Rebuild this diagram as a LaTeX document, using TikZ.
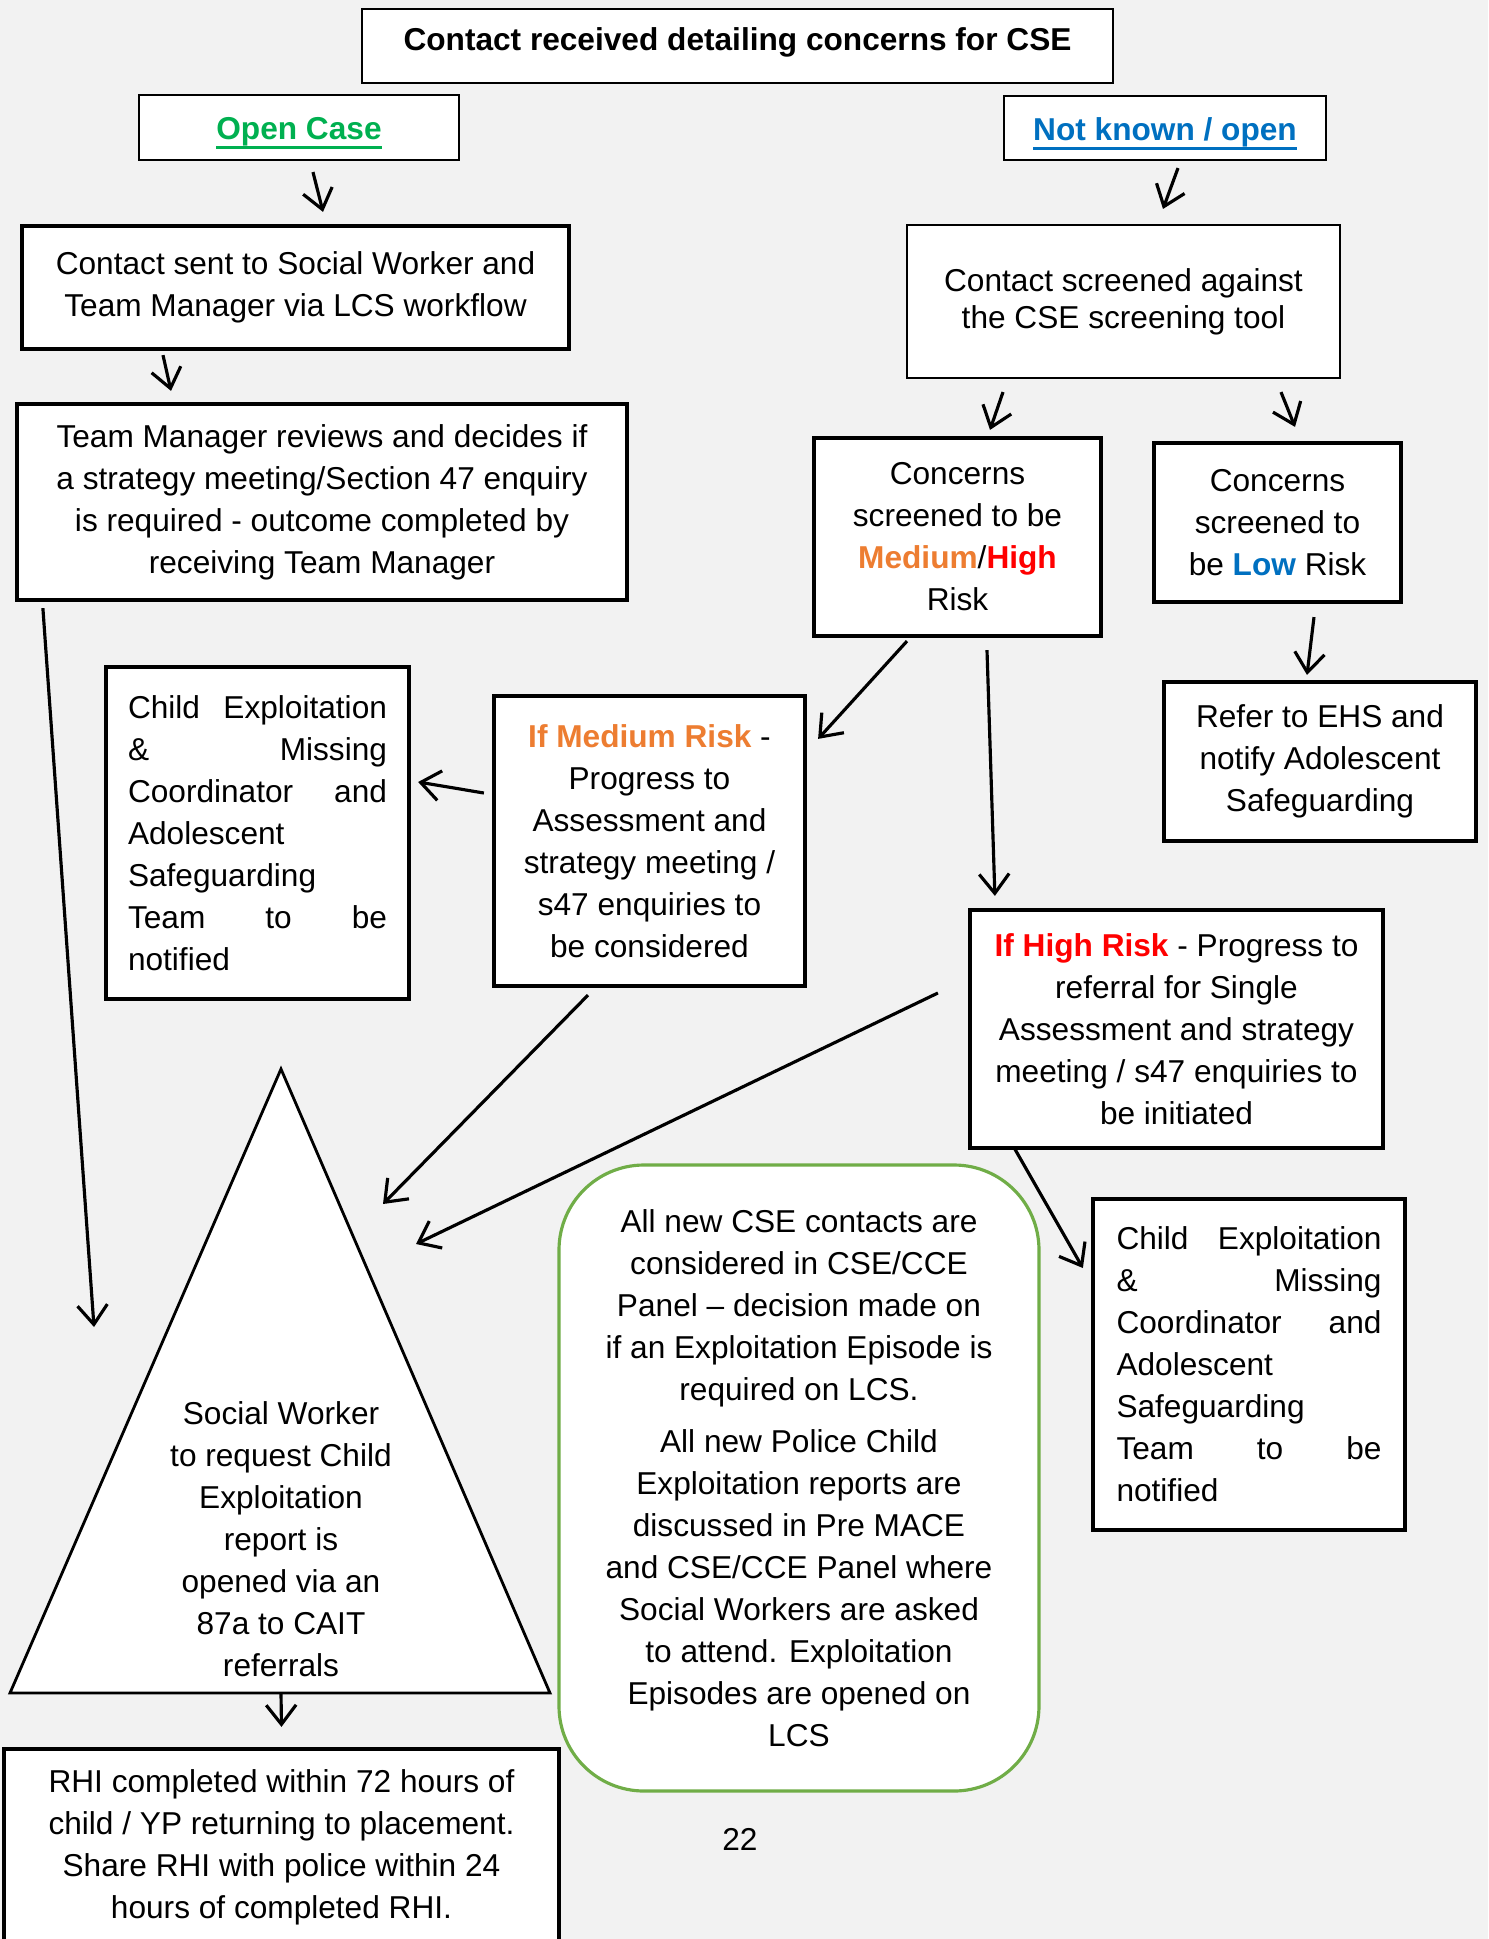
\documentclass[tikz,border=0pt]{standalone}
\usepackage{fontspec}
\setmainfont{Liberation Sans}
\usetikzlibrary{calc}
\usetikzlibrary{positioning}
\usetikzlibrary{arrows.meta}
\definecolor{bggray}{HTML}{F2F2F2}
\definecolor{opengreen}{HTML}{00B050}
\definecolor{knownblue}{HTML}{0070C0}
\definecolor{medorange}{HTML}{ED7D31}
\definecolor{highred}{HTML}{FF0000}
\definecolor{panelgreen}{HTML}{70AD47}
\newcommand{\nudge}[2]{\raisebox{#1}[\height][\depth]{#2}}
\newcommand{\thickul}[1]{\setbox0\hbox{#1}\rlap{\copy0}\rule[-2.6pt]{\wd0}{1pt}}

\begin{document}
\begin{tikzpicture}[
    font=\fontsize{9}{11.95}\selectfont,
    >={Straight Barb[length=5.5pt,width=8.5pt]},
    box/.style={draw, fill=white, line width=1.2pt, align=center, inner sep=0pt},
    thinbox/.style={box, line width=0.6pt},
    notebox/.style={box, align=left},
    arr/.style={->, line width=0.9pt}
]
    \useasboundingbox (0,0) rectangle (14.88,-19.39);
    \fill[bggray] (0,0) rectangle (14.88,-19.39);

    \node[thinbox, minimum width=7.51cm, minimum height=0.74cm] (T) at (7.375,-0.46) {\nudge{0.4mm}{\bfseries Contact received detailing concerns for CSE}};
    \node[thinbox, minimum width=3.2cm, minimum height=0.65cm] (OC) at (2.99,-1.275) {\nudge{-0.6mm}{\bfseries\color{opengreen}\thickul{Open Case}}};
    \node[thinbox, minimum width=3.22cm, minimum height=0.64cm] (NK) at (11.65,-1.28) {\nudge{-0.6mm}{\bfseries\color{knownblue}\thickul{Not known / open}}};
    \node[box, minimum width=5.47cm, minimum height=1.23cm] (CS) at (2.955,-2.875) {Contact sent to Social Worker and\\Team Manager via LCS workflow};
    \node[thinbox, minimum width=4.33cm, minimum height=1.53cm] (SC) at (11.235,-3.015) {Contact screened against\\[-0.5mm]the CSE screening tool};
    \node[box, minimum width=6.1cm, minimum height=1.96cm] (TM) at (3.22,-5.02) {Team Manager reviews and decides if\\a strategy meeting/Section 47 enquiry\\is required - outcome completed by\\receiving Team Manager};
    \node[box, minimum width=2.87cm, minimum height=1.98cm] (MH) at (9.575,-5.37) {Concerns\\screened to be\\{\bfseries\color{medorange}Medium}/{\bfseries\color{highred}High}\\Risk};
    \node[box, minimum width=2.47cm, minimum height=1.59cm] (LO) at (12.775,-5.225) {Concerns\\screened to\\be {\bfseries\color{knownblue}Low} Risk};
    \node[box, minimum width=3.12cm, minimum height=1.59cm] (EH) at (13.2,-7.615) {Refer to EHS and\\notify Adolescent\\Safeguarding};
    \node[notebox, text width=2.59cm, minimum width=3.03cm, minimum height=3.32cm] (CL) at (2.575,-8.33) {Child\hfill Exploitation\\\&\hfill Missing\\Coordinator\hfill and\\Adolescent\\Safeguarding\\Team\hfill to\hfill be\\notified};
    \node[box, minimum width=3.11cm, minimum height=2.9cm] (IM) at (6.495,-8.41) {{\bfseries\color{medorange}If Medium Risk} -\\Progress to\\Assessment and\\strategy meeting /\\s47 enquiries to\\be considered};
    \node[box, minimum width=4.13cm, minimum height=2.38cm] (IH) at (11.765,-10.29) {{\bfseries\color{highred}If High Risk} - Progress to\\referral for Single\\Assessment and strategy\\meeting / s47 enquiries to\\be initiated};
    \node[notebox, text width=2.65cm, minimum width=3.12cm, minimum height=3.31cm] (CR) at (12.49,-13.645) {Child\hfill Exploitation\\\&\hfill Missing\\Coordinator\hfill and\\Adolescent\\Safeguarding\\Team\hfill to\hfill be\\notified};

    \coordinate (ta) at (2.81,-10.69);
    \coordinate (tl) at (0.10,-16.93);
    \coordinate (tr) at (5.50,-16.93);
    \coordinate (tb) at (2.81,-16.93);
    \draw[fill=white, line width=0.8pt] (ta) -- (tr) -- (tl) -- cycle;
    \node[align=center] (TR) at (2.81,-15.39) {Social Worker\\to request Child\\Exploitation\\report is\\opened via an\\87a to CAIT\\referrals};

    \node[draw=panelgreen, fill=white, line width=0.9pt, rounded corners=0.85cm, align=center, minimum width=4.8cm, minimum height=6.26cm] (GR) at (7.99,-14.78) {All new CSE contacts are\\considered in CSE/CCE\\Panel -- decision made on\\if an Exploitation Episode is\\required on LCS.\\[1mm]All new Police Child\\Exploitation reports are\\discussed in Pre MACE\\and CSE/CCE Panel where\\Social Workers are asked\\to attend. Exploitation\\Episodes are opened on\\LCS};
    \node[box, minimum width=5.55cm, minimum height=1.96cm] (RH) at (2.815,-18.47) {RHI completed within 72 hours of\\child / YP returning to placement.\\Share RHI with police within 24\\hours of completed RHI.};
    \node (PG) at (7.40,-18.39) {22};

    \coordinate (sw) at (0.94,-13.27);
    \coordinate (mt) at (3.83,-12.04);
    \coordinate (ht) at (4.16,-12.44);

    \draw[arr] ($(OC.south)+(0.14,-0.11)$) -- ($(CS.north)+(0.275,0.12)$);
    \draw[arr] ($(NK.south)+(0.13,-0.07)$) -- ($(SC.north)+(0.395,0.15)$);
    \draw[arr] ($(CS.south)+(-1.325,-0.04)$) -- ($(TM.north)+(-1.51,0.11)$);
    \draw[arr] ($(SC.south)+(-1.205,-0.13)$) -- ($(MH.north)+(0.325,0.06)$);
    \draw[arr] ($(SC.south)+(1.575,-0.13)$) -- ($(LO.north)+(0.175,0.14)$);
    \draw[arr] ($(LO.south)+(0.365,-0.13)$) -- ($(EH.north)+(-0.13,0.05)$);
    \draw[arr] ($(MH.south)+(-0.505,-0.03)$) -- ($(IM.north east)+(0.11,-0.45)$);
    \draw[arr] ($(MH.south)+(0.295,-0.12)$) -- ($(IH.north west)+(0.27,0.12)$);
    \draw[arr] ($(IM.west)+(-0.08,0.48)$) -- ($(CL.east)+(0.07,0.51)$);
    \draw[arr] ($(TM.south west)+(0.28,-0.06)$) -- (sw);
    \draw[arr] ($(IM.south)+(-0.615,-0.07)$) -- (mt);
    \draw[arr] ($(IH.west)+(-0.3,0.36)$) -- (ht);
    \draw[arr] ($(IH.south west)+(0.47,0.01)$) -- ($(CR.west)+(-0.08,0.965)$);
    \draw[arr] (tb) -- ($(RH.north)+(0,0.2)$);
\end{tikzpicture}
\end{document}
